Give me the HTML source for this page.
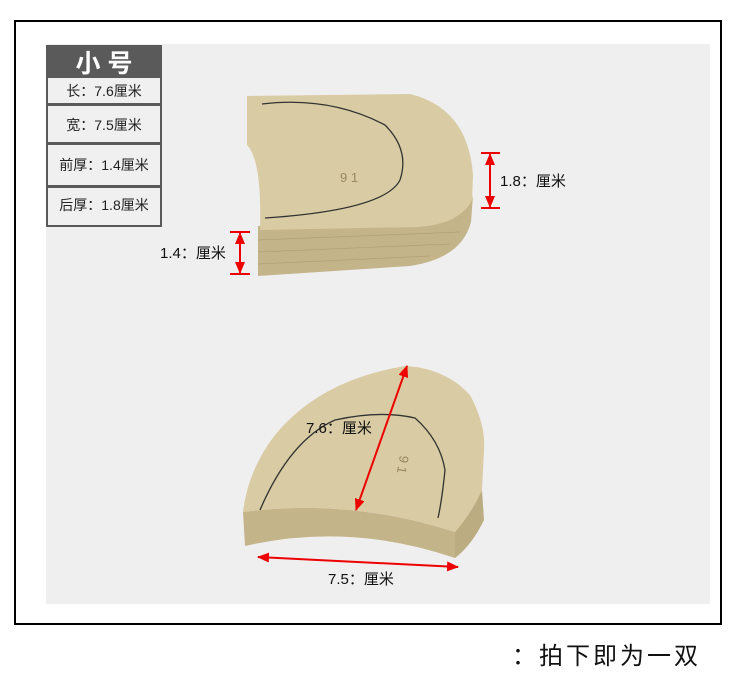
<!DOCTYPE html>
<html><head><meta charset="utf-8"><style>
body{margin:0;width:750px;height:685px;background:#fff;overflow:hidden;font-family:"Liberation Sans","Noto Sans CJK SC",sans-serif}
</style></head><body>
<svg width="750" height="685" xmlns="http://www.w3.org/2000/svg" font-family="Liberation Sans, Noto Sans CJK SC, sans-serif">
<defs>
<marker id="a" markerUnits="userSpaceOnUse" markerWidth="12" markerHeight="10" refX="11" refY="5" orient="auto-start-reverse"><path d="M0,0 L12,5 L0,10 Z" fill="#e00"/></marker>
</defs>
<rect x="15" y="21" width="706" height="603" fill="#fff" stroke="#000" stroke-width="2"/>
<rect x="46" y="44" width="664" height="560" fill="#efefef"/>
<rect x="46" y="45" width="116" height="182" fill="#5a5a5a"/>
<text x="104" y="72" font-size="25" fill="#fff" font-weight="bold" text-anchor="middle">小 号</text>
<rect x="48" y="78" width="112" height="25" fill="#f0f0f0"/>
<rect x="48" y="106" width="112" height="36" fill="#f0f0f0"/>
<rect x="48" y="145" width="112" height="40" fill="#f0f0f0"/>
<rect x="48" y="188" width="112" height="37" fill="#f0f0f0"/>
<g font-size="14" fill="#222" text-anchor="middle">
<text x="104" y="96">长：7.6厘米</text>
<text x="104" y="130">宽：7.5厘米</text>
<text x="104" y="170">前厚：1.4厘米</text>
<text x="104" y="210">后厚：1.8厘米</text>
</g>
<path d="M258,226 L420,226 Q468,220 473,195 L471,222 Q462,258 410,266 L258,276 Z" fill="#c4b48a"/>
<g stroke="#b0a078" stroke-width="0.7"><line x1="258" y1="240" x2="460" y2="232"/><line x1="258" y1="252" x2="450" y2="244"/><line x1="258" y1="264" x2="430" y2="256"/></g>
<path d="M247,96 L410,94 Q468,108 473,175 L472,200 Q460,224 418,227 L260,230 Q262,160 247,145 Z" fill="#d9cba3"/>
<path d="M262,104 Q330,96 385,125 Q410,150 400,180 Q385,210 265,218" fill="none" stroke="#333" stroke-width="1.3"/>
<text x="340" y="182" font-size="13" fill="#998860">9 1</text>
<path d="M243,512 Q350,498 455,532 L455,558 Q350,522 245,546 Z" fill="#c4b48a"/>
<path d="M455,532 Q472,512 482,490 L484,520 Q472,545 455,558 Z" fill="#bcac82"/>
<path d="M243,512 Q248,470 275,435 Q320,380 405,366 Q445,368 470,395 Q486,425 484,450 L482,490 Q470,515 455,532 Q350,498 243,512 Z" fill="#d9cba3"/>
<path d="M260,510 Q290,440 335,420 Q380,410 415,418 Q440,440 445,470 Q442,500 438,518" fill="none" stroke="#333" stroke-width="1.3"/>
<text x="400" y="455" font-size="13" fill="#998860" transform="rotate(100 400 455)">9 1</text>
<g stroke="#e00" stroke-width="2" fill="none">
<line x1="481" y1="153" x2="500" y2="153"/><line x1="481" y1="208" x2="500" y2="208"/>
<line x1="490" y1="154" x2="490" y2="207" marker-start="url(#a)" marker-end="url(#a)"/>
<line x1="230" y1="232" x2="250" y2="232"/><line x1="230" y1="274" x2="250" y2="274"/>
<line x1="240" y1="233" x2="240" y2="273" marker-start="url(#a)" marker-end="url(#a)"/>
<line x1="407" y1="366" x2="356" y2="510" marker-start="url(#a)" marker-end="url(#a)"/>
<line x1="258" y1="557" x2="458" y2="567" marker-start="url(#a)" marker-end="url(#a)"/>
</g>
<g font-size="15" fill="#111">
<text x="500" y="186">1.8：厘米</text>
<text x="160" y="258">1.4：厘米</text>
<text x="306" y="433">7.6：厘米</text>
<text x="328" y="584">7.5：厘米</text>
</g>
<text x="512" y="664" font-size="24" letter-spacing="3" fill="#111">：拍下即为一双</text>
</svg>
</body></html>
